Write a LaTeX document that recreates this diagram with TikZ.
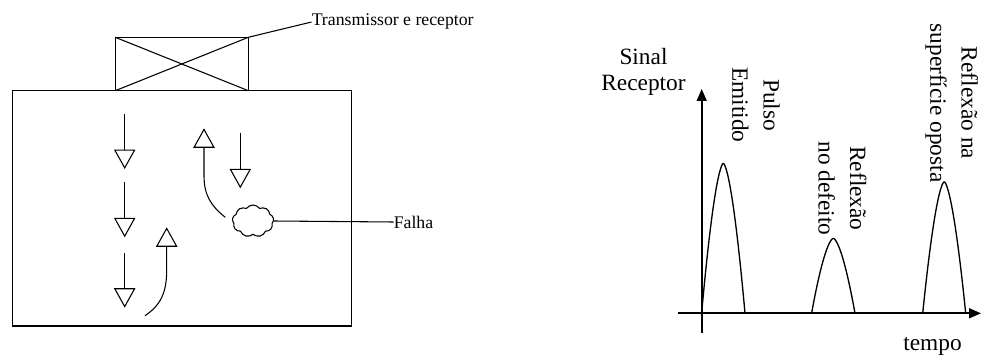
\documentclass[tikz,border=0pt]{standalone}
\usepackage{fontspec}
\setmainfont{Liberation Serif}
\usetikzlibrary{arrows.meta,shapes.symbols}
\begin{document}
\begin{tikzpicture}[x=0.75pt,y=-0.75pt,
  thinline/.style={line width=0.8pt,black},
  blockline/.style={line width=1pt,black},
  wave/.style={-{Triangle[open,width=16pt,length=14.6pt,line width=0.8pt]},line width=0.8pt},
  axis/.style={line width=1.3pt,-{Triangle[width=7.5pt,length=9pt]}},
  lefttext/.style={font=\fontsize{13.3}{15}\selectfont,inner sep=0pt},
  righttext/.style={font=\fontsize{17.5}{23.5}\selectfont,inner sep=0pt,align=center},
  pulse/.style={line width=1pt},
]
\useasboundingbox (0,0) rectangle (981,356);

% --- test piece with transducer ---
\coordinate (blkNW) at (12.7,90.7);
\coordinate (blkSE) at (351.7,326);
\draw[blockline] (blkNW) rectangle (blkSE);

\coordinate (trNW) at (115.3,37.3);
\coordinate (trNE) at (248.3,37.3);
\coordinate (trSW) at (115.3,90.7);
\coordinate (trSE) at (248.3,90.7);
\draw[blockline] (trNW) rectangle (trSE);
\draw[thinline] (trNW) -- (trSE) (trSW) -- (trNE);

\node[lefttext,anchor=base west] (trlabel) at (311.5,26) {Transmissor e receptor};
\draw[thinline] (trNE) -- (trlabel.west);

% --- wave paths inside the piece ---
\coordinate (d1a) at (124.7,114);   \coordinate (d1b) at (124.7,169);
\coordinate (d2a) at (124.7,182.3); \coordinate (d2b) at (124.7,237.3);
\coordinate (d3a) at (124.7,253.3); \coordinate (d3b) at (124.7,307.7);
\draw[wave] (d1a) -- (d1b);
\draw[wave] (d2a) -- (d2b);
\draw[wave] (d3a) -- (d3b);

\coordinate (u1a) at (145,315.7); \coordinate (u1b) at (166.7,227.3);
\draw[wave] (u1a) .. controls (161,305) and (166.7,292) .. (166.7,270) -- (u1b);

\coordinate (u2a) at (225.3,217.3); \coordinate (u2b) at (204,128.3);
\draw[wave] (u2a) .. controls (211,206) and (204,195) .. (204,176) -- (u2b);

\coordinate (d4a) at (240.3,133.3); \coordinate (d4b) at (240.3,188.3);
\draw[wave] (d4a) -- (d4b);

% --- flaw ---
\node[cloud,draw,thinline,cloud puffs=9,cloud puff arc=110,aspect=1.3,
      minimum width=31pt,minimum height=24pt,inner sep=0pt] (flaw) at (253,221) {};
\node[lefttext,anchor=west] (falha) at (393.5,222) {Falha};
\draw[thinline] (flaw.east) -- (falha.west);

% --- received signal chart ---
\coordinate (yb) at (701.7,332.7); \coordinate (yt) at (701.7,89);
\coordinate (xl) at (678.3,313.3); \coordinate (xr) at (981,313.3);
\draw[axis] (yb) -- (yt);
\draw[axis] (xl) -- (xr);

\node[righttext,font=\fontsize{17.5}{19}\selectfont] (ylabel) at (643.5,72) {Sinal\\Receptor};
\node[righttext] (xlabel) at (932.5,346) {tempo};

\draw[pulse] plot[domain=-1:1,samples=50] ({723.3+21.7*\x},{313.3-150*(1-pow(abs(\x),1.6))});
\draw[pulse] plot[domain=-1:1,samples=50] ({833.3+21.7*\x},{313.3-75*(1-pow(abs(\x),1.6))});
\draw[pulse] plot[domain=-1:1,samples=50] ({944.2+21.5*\x},{313.3-131.6*(1-pow(abs(\x),1.6))});

\node[righttext,rotate=-90] (l1) at (756,105) {Pulso\\Emitido};
\node[righttext,rotate=-90] (l2) at (842.5,188.5) {Reflexão\\no defeito};
\node[righttext,rotate=-90] (l3) at (951.7,103) {Reflexão na\\superfície oposta};
\end{tikzpicture}
\end{document}
